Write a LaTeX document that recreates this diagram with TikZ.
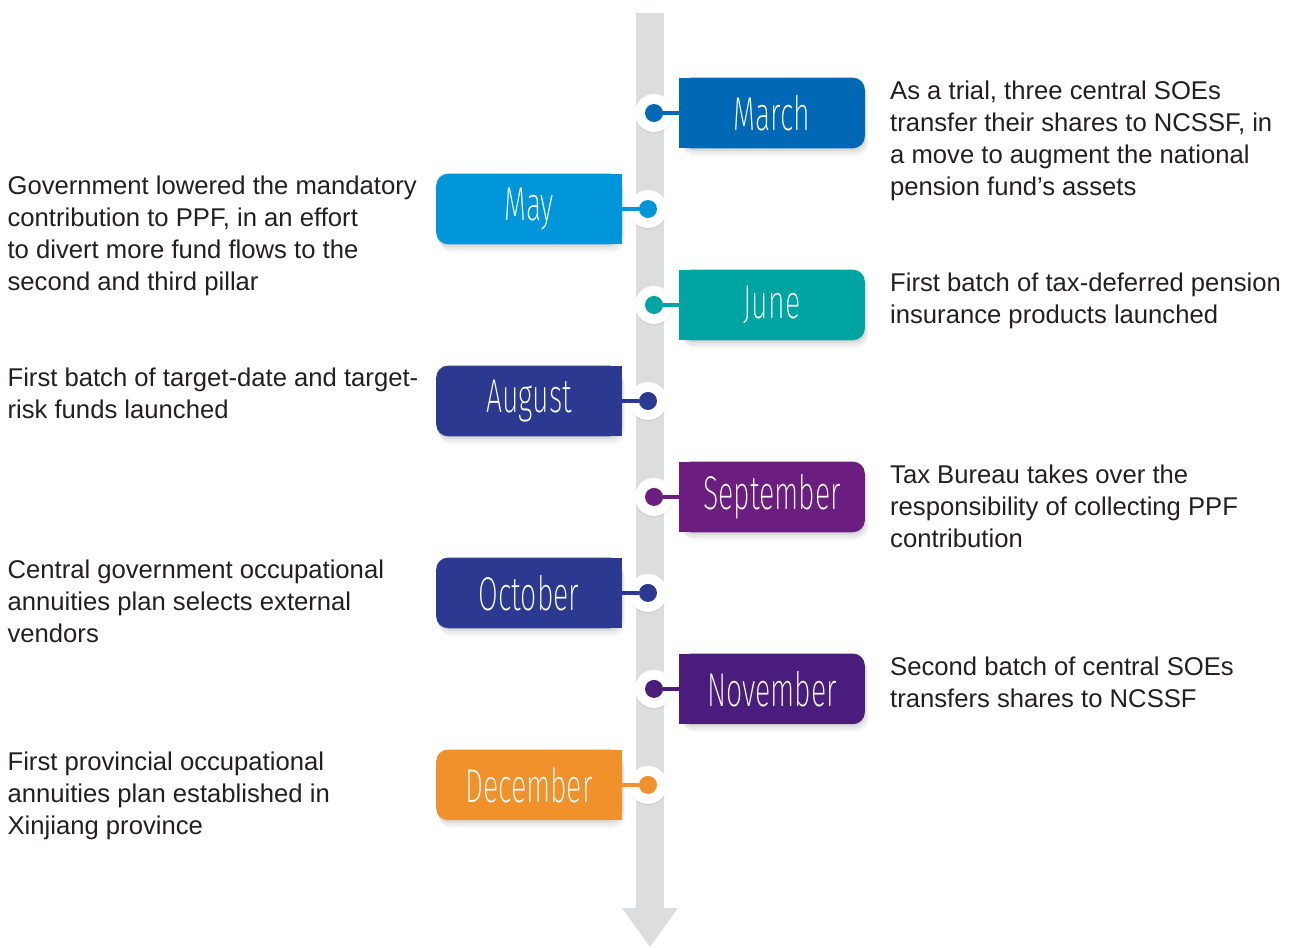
\documentclass[tikz,border=0pt]{standalone}
\usepackage{fontspec}
\setmainfont{Liberation Sans}
\IfFontExistsTF{Fira Sans ExtraLight}
  {\newfontfamily\monthfont{Fira Sans ExtraLight}[FakeStretch=0.6]}
  {\newfontfamily\monthfont{Fira Sans Light}[FakeStretch=0.6]}
\usetikzlibrary{positioning}
\pgfdeclarelayer{background}
\pgfsetlayers{background,main}

\definecolor{barc}{HTML}{DCDDDE}
\definecolor{inkc}{HTML}{231F20}
\definecolor{marc}{HTML}{0068B4}
\definecolor{mayc}{HTML}{0096D9}
\definecolor{junc}{HTML}{00A5A3}
\definecolor{augc}{HTML}{2B3990}
\definecolor{sepc}{HTML}{6B1E80}
\definecolor{octc}{HTML}{2B3990}
\definecolor{novc}{HTML}{4A1D7D}
\definecolor{decc}{HTML}{F1912C}

\tikzset{
  month/.style={minimum width=3.7cm, minimum height=1.4cm, inner sep=0pt, text=white, font={\monthfont\fontsize{27}{27}\selectfont}},
  note/.style={anchor=north west, inner sep=0pt, align=left, text=inkc, font={\fontsize{14.6}{18.1}\selectfont}},
  halo/.style={circle, fill=white, minimum size=0.76cm, inner sep=0pt,
    preaction={fill=black, opacity=0.05, transform canvas={yshift=-0.03cm}, minimum size=0.84cm}},
  dot/.style={circle, minimum size=0.36cm, inner sep=0pt},
  link/.style={line width=0.08cm},
  tagshadow/.style={
    preaction={fill=black, opacity=0.06, transform canvas={xshift=0.02cm, yshift=-0.05cm}},
    preaction={fill=black, opacity=0.05, transform canvas={xshift=0.04cm, yshift=-0.1cm}},
    preaction={fill=black, opacity=0.04, transform canvas={xshift=0.06cm, yshift=-0.15cm}}}
}

\begin{document}
\begin{tikzpicture}[x=0.02cm, y=-0.02cm, node distance=3.84cm, on grid]
\useasboundingbox (0,0) rectangle (1291,947);

% month tags on the right of the time line
\node[month] (mar) at (772,113) {March};
\node[month] (jun) [below=of mar] {June};
\node[month] (sep) [below=of jun] {September};
\node[month] (nov) [below=of sep] {November};
% month tags on the left
\node[month] (may) at (529,209) {May};
\node[month] (aug) [below=of may] {August};
\node[month] (oct) [below=of aug] {October};
\node[month] (dec) [below=of oct] {December};

\begin{pgfonlayer}{background}
  % time line with its arrow head
  \fill[barc] (636,13) rectangle (664,908);
  \fill[barc] (622,908) -- (678,908) -- (650,947) -- cycle;
  % tag bodies, square on the side facing the line
  \foreach \m/\c in {mar/marc, jun/junc, sep/sepc, nov/novc}{
    \fill[\c, tagshadow, rounded corners=0.24cm] (\m.north west) rectangle (\m.south east);
    \fill[\c] (\m.north west) rectangle (\m.south);
  }
  \foreach \m/\c in {may/mayc, aug/augc, oct/octc, dec/decc}{
    \fill[\c, tagshadow, rounded corners=0.24cm] (\m.north west) rectangle (\m.south east);
    \fill[\c] (\m.north east) rectangle (\m.south);
  }
\end{pgfonlayer}

% pins on the line
\foreach \m/\c in {mar/marc, jun/junc, sep/sepc, nov/novc}{
  \node[halo] (\m-h) [left=2.36cm of \m] {};
  \node[dot, fill=\c] (\m-d) at (\m-h) {};
  \draw[link, \c] (\m-d) -- (\m);
}
\foreach \m/\c in {may/mayc, aug/augc, oct/octc, dec/decc}{
  \node[halo] (\m-h) [right=2.38cm of \m] {};
  \node[dot, fill=\c] (\m-d) at (\m-h) {};
  \draw[link, \c] (\m-d) -- (\m);
}

% events
\node[note] (mar-t) at ([xshift=0.5cm, yshift=-0.06cm]mar.north east) {As a trial, three central SOEs\\transfer their shares to NCSSF, in\\a move to augment the national\\pension fund’s assets};
\node[note] (jun-t) at ([xshift=0.5cm, yshift=-0.06cm]jun.north east) {First batch of tax-deferred pension\\insurance products launched};
\node[note] (sep-t) at ([xshift=0.5cm, yshift=-0.06cm]sep.north east) {Tax Bureau takes over the\\responsibility of collecting PPF\\contribution};
\node[note] (nov-t) at ([xshift=0.5cm, yshift=-0.06cm]nov.north east) {Second batch of central SOEs\\transfers shares to NCSSF};
\node[note] (may-t) at ([xshift=-8.58cm, yshift=-0.04cm]may.north west) {Government lowered the mandatory\\contribution to PPF, in an effort\\to divert more fund flows to the\\second and third pillar};
\node[note] (aug-t) at ([xshift=-8.58cm, yshift=-0.04cm]aug.north west) {First batch of target-date and target-\\risk funds launched};
\node[note] (oct-t) at ([xshift=-8.58cm, yshift=-0.04cm]oct.north west) {Central government occupational\\annuities plan selects external\\vendors};
\node[note] (dec-t) at ([xshift=-8.58cm, yshift=-0.04cm]dec.north west) {First provincial occupational\\annuities plan established in\\Xinjiang province};
\end{tikzpicture}
\end{document}
